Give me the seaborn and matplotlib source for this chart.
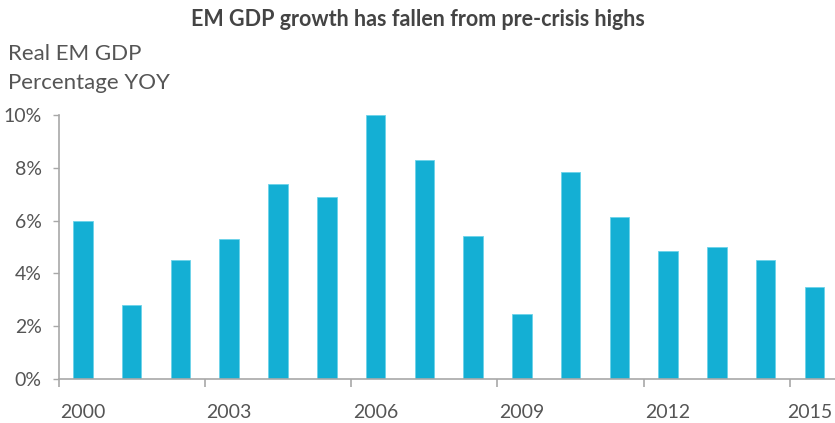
import matplotlib
matplotlib.use("Agg")
import matplotlib.pyplot as plt
import matplotlib.transforms as mtransforms
import seaborn as sns
import pandas as pd

years = [str(y) for y in range(2000, 2016)]
growth = [6.0, 2.8, 4.5, 5.3, 7.4, 6.9, 10.0, 8.3, 5.4, 2.45, 7.85, 6.15, 4.85, 5.0, 4.5, 3.5]
ytick_vals = [0, 2, 4, 6, 8, 10]
ytick_labels = ["0%", "2%", "4%", "6%", "8%", "10%"]
xlabel_years = ["2000", "2003", "2006", "2009", "2012", "2015"]

df = pd.DataFrame({"year": years, "growth": growth})

sns.set_theme(style="white")
plt.rcParams["font.family"] = ["Lato", "DejaVu Sans"]

fig = plt.figure(figsize=(8.35, 4.23), dpi=100)
ax = fig.add_axes([58.5 / 835, 44 / 423, 1 - 58.5 / 835, (379 - 115) / 423])

bar_color = "#14AFD4"
sns.barplot(data=df, x="year", y="growth", color=bar_color, width=0.4,
            edgecolor="#6CD3EA", linewidth=0.6, saturation=1, ax=ax)

ax.set_ylim(0, 10)
ax.set_xlim(-0.5, 15.42)
ax.set_xlabel("")
ax.set_ylabel("")

grey = "#A8A8A8"
text_c = "#555555"
for s in ["top", "right"]:
    ax.spines[s].set_visible(False)
for s in ["left", "bottom"]:
    ax.spines[s].set_color(grey)
    ax.spines[s].set_linewidth(1.2)

ax.set_yticks(ytick_vals, ytick_labels)
ax.tick_params(axis="y", which="major", length=4, width=1, color=grey, pad=8,
               labelsize=14, labelcolor=text_c, direction="out", left=True)

pos = [years.index(y) for y in xlabel_years]
ax.set_xticks(pos, xlabel_years)
ax.tick_params(axis="x", which="major", length=0, pad=18, labelsize=14, labelcolor=text_c)
ax.set_xticks([p - 0.5 for p in pos], minor=True)
ax.tick_params(axis="x", which="minor", length=6, width=1.2, color=grey, direction="out", bottom=True)

# nudge last label so it stays inside the figure
last = ax.get_xticklabels()[-1]
last.set_transform(last.get_transform() + mtransforms.ScaledTranslation(-5 / 100, 0, fig.dpi_scale_trans))

fig.text(0.5, 1 - 20 / 423, "EM GDP growth has fallen from pre-crisis highs",
         ha="center", va="center", fontsize=15.5, fontweight="bold", color="#444444")
fig.text(8 / 835, 1 - 54 / 423, "Real EM GDP", ha="left", va="center", fontsize=16, color=text_c)
fig.text(8 / 835, 1 - 83 / 423, "Percentage YOY", ha="left", va="center", fontsize=16, color=text_c)

fig.savefig("out.png", dpi=100)
